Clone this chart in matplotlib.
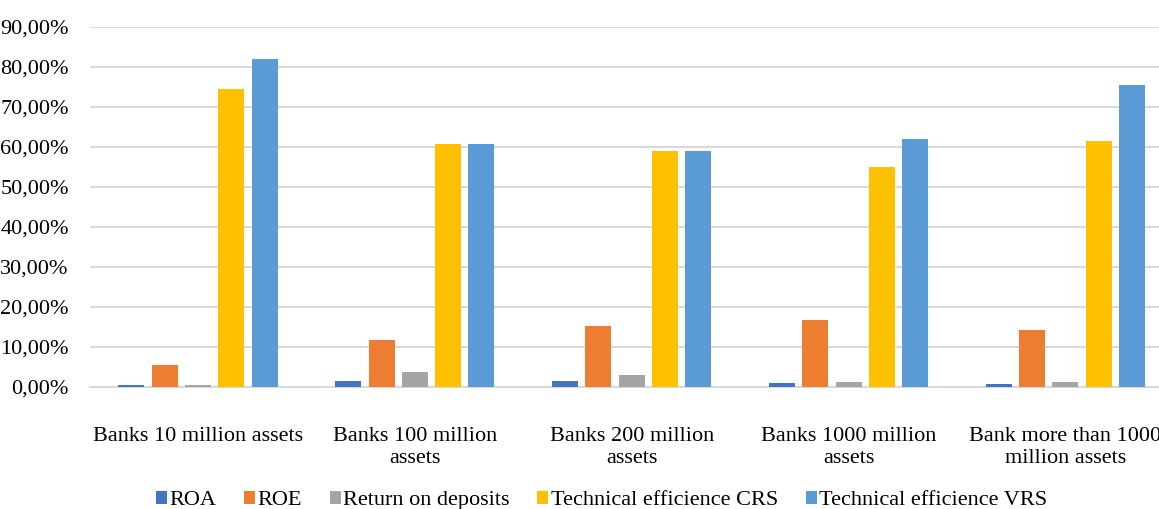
import matplotlib
matplotlib.use("Agg")
import matplotlib.pyplot as plt
import numpy as np
from matplotlib.ticker import FuncFormatter
from matplotlib.font_manager import FontProperties

categories = [
    "Banks 10 million assets",
    "Banks 100 million\nassets",
    "Banks 200 million\nassets",
    "Banks 1000 million\nassets",
    "Bank more than 1000\nmillion assets",
]
series_names = ["ROA", "ROE", "Return on deposits", "Technical efficience CRS", "Technical efficience VRS"]
roa = [0.004, 0.014, 0.015, 0.008, 0.007]
roe = [0.053, 0.117, 0.152, 0.167, 0.142]
ret_deposits = [0.004, 0.037, 0.028, 0.012, 0.011]
crs = [0.744, 0.606, 0.589, 0.549, 0.613]
vrs = [0.820, 0.606, 0.589, 0.618, 0.754]
colors = ["#4472C4", "#ED7D31", "#A5A5A5", "#FFC000", "#5B9BD5"]

plt.rcParams["font.family"] = ["Liberation Serif", "DejaVu Serif"]
FS = 16

fig = plt.figure(figsize=(11.59, 5.09), dpi=100)
ax = fig.add_axes([0.0773, 0.2403, 0.9355, 0.7073])

x = np.arange(len(categories))
step = 0.1535
width = 0.12
for i, (vals, name, c) in enumerate(zip([roa, roe, ret_deposits, crs, vrs], series_names, colors)):
    ax.bar(x + (i - 2) * step, vals, width=width, color=c, label=name, zorder=3)

ax.set_xlim(-0.5, len(categories) - 0.5)
ax.set_ylim(0, 0.9)
ax.set_yticks(np.arange(0, 0.91, 0.1))
ax.yaxis.set_major_formatter(FuncFormatter(lambda v, _: f"{v*100:.2f}%".replace(".", ",")))
ax.set_xticks(x)
ax.set_xticklabels(categories, fontsize=FS, linespacing=1.2)
ax.tick_params(axis="y", length=0, pad=15, labelsize=FS)
ax.tick_params(axis="x", length=0, pad=29)
ax.grid(axis="y", color="#d9d9d9", linewidth=1.5, zorder=0)
for s in ["top", "right", "left"]:
    ax.spines[s].set_visible(False)
ax.spines["bottom"].set_color("#d9d9d9")
ax.spines["bottom"].set_linewidth(1.5)

fig.legend(loc="center", bbox_to_anchor=(0.519, 0.016), ncol=5, frameon=False,
           prop=FontProperties(family=["Liberation Serif", "DejaVu Serif"], size=FS),
           handlelength=0.5, handleheight=0.5, handletextpad=0.1,
           columnspacing=1.25)

fig.savefig("out.png", dpi=100)
